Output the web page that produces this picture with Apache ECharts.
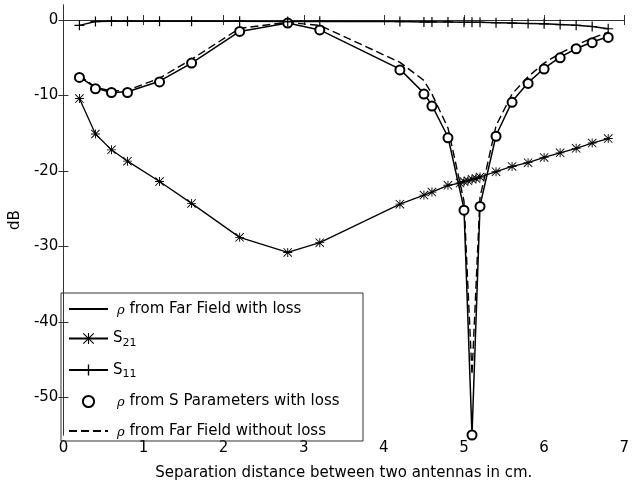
<!DOCTYPE html>
<html>
<head>
<meta charset="utf-8">
<script src="https://cdn.jsdelivr.net/npm/echarts@6/dist/echarts.min.js"></script>
<style>
  html, body { margin: 0; padding: 0; background: #fff; }
  #chart { width: 632px; height: 486px; }
</style>
</head>
<body>
<div id="chart"></div>
<script>
// separation distance (cm)
const rhoX = [0.2, 0.4, 0.6, 0.8, 1.2, 1.6, 2.2, 2.8, 3.2, 4.2, 4.5, 4.6, 4.8, 5.0, 5.1, 5.2, 5.4, 5.6, 5.8, 6.0, 6.2, 6.4, 6.6, 6.8];
const rhoFarLoss = [-7.5, -9.0, -9.6, -9.5, -8.1, -5.7, -1.5, -0.4, -1.3, -6.5, -9.7, -11.3, -15.5, -25.0, -55, -24.6, -15.3, -10.8, -8.3, -6.4, -4.9, -3.8, -2.9, -2.2];
const rhoSParam = [-7.6, -9.1, -9.6, -9.6, -8.2, -5.7, -1.5, -0.4, -1.3, -6.6, -9.8, -11.4, -15.6, -25.2, -55, -24.7, -15.4, -10.9, -8.4, -6.5, -5.0, -3.8, -3.0, -2.3];
const rhoFarNoLoss = [-7.3, -8.9, -9.4, -9.3, -7.7, -5.2, -1.1, -0.3, -0.7, -5.6, -8.0, -9.8, -14.3, -24.0, -47, -23.5, -14.0, -9.8, -7.5, -5.7, -4.4, -3.3, -2.4, -1.6];
const s11 = [-0.7, -0.2, -0.15, -0.15, -0.15, -0.15, -0.15, -0.2, -0.15, -0.2, -0.25, -0.25, -0.25, -0.3, -0.3, -0.3, -0.35, -0.4, -0.45, -0.5, -0.6, -0.7, -0.85, -1.15];

const s21X = [0.2, 0.4, 0.6, 0.8, 1.2, 1.6, 2.2, 2.8, 3.2, 4.2, 4.5, 4.6, 4.8, 4.95, 5.0, 5.05, 5.1, 5.15, 5.2, 5.4, 5.6, 5.8, 6.0, 6.2, 6.4, 6.6, 6.8];
const s21 = [-10.4, -15.1, -17.2, -18.7, -21.4, -24.3, -28.8, -30.8, -29.5, -24.4, -23.2, -22.8, -21.9, -21.6, -21.4, -21.3, -21.1, -21.0, -20.8, -20.1, -19.4, -18.9, -18.2, -17.6, -17.0, -16.3, -15.7];

const xTicks = [0, 1, 2, 3, 4, 5, 6, 7];
const yTicks = [0, -10, -20, -30, -40, -50];

const pairs = (xs, ys) => xs.map((x, i) => [x, ys[i]]);

const FONT = 'DejaVu Sans';
const FS = 15;
const plusPath = 'path://M4.4,0h1.2v10h-1.2z M0,4.4h10v1.2h-10z';
const starPath = 'path://M4.5,0h1v10h-1z M0,4.5h10v1h-10z M0.7,0L10,9.3L9.3,10L0,0.7z M9.3,0L10,0.7L0.7,10L0,9.3z';

const chart = echarts.init(document.getElementById('chart'), null, { renderer: 'canvas' });

const frame = { show: true, lineStyle: { color: '#333', width: 1 } };
const tickIn = { show: true, inside: true, length: 5, lineStyle: { color: '#333' } };

chart.setOption({
  animation: false,
  backgroundColor: '#fff',
  textStyle: { fontFamily: FONT },
  grid: { left: 61, right: 3, top: 5, bottom: 45, containLabel: false },
  xAxis: [{
    type: 'value', min: 0, max: 7,
    name: 'Separation distance between two antennas in cm.',
    nameLocation: 'middle', nameGap: 31,
    nameTextStyle: { fontSize: FS, color: '#000', fontFamily: FONT },
    axisLine: frame, axisTick: Object.assign({ customValues: xTicks }, tickIn),
    axisLabel: { customValues: xTicks, fontSize: FS, color: '#000', margin: 6, fontFamily: FONT },
    splitLine: { show: false }
  }, {
    type: 'value', min: 0, max: 7, position: 'top',
    axisLine: frame, axisTick: Object.assign({ customValues: xTicks }, tickIn),
    axisLabel: { show: false }, splitLine: { show: false }
  }],
  yAxis: [{
    type: 'value', min: -55, max: 2,
    name: 'dB', nameLocation: 'middle', nameGap: 36,
    nameTextStyle: { fontSize: FS, color: '#000', fontFamily: FONT },
    axisLine: frame, axisTick: Object.assign({ customValues: yTicks }, tickIn),
    axisLabel: { customValues: yTicks, fontSize: FS, color: '#000', margin: 5, fontFamily: FONT },
    splitLine: { show: false }
  }, {
    type: 'value', min: -55, max: 2, position: 'right',
    axisLine: frame, axisTick: Object.assign({ customValues: yTicks }, tickIn),
    axisLabel: { show: false }, splitLine: { show: false }
  }],
  legend: {
    orient: 'vertical', left: 68, top: 301, padding: 0,
    itemWidth: 39, itemHeight: 14, itemGap: 13.5,
    data: ['farLoss', 's21', 's11', 'sParam', 'farNoLoss'],
    formatter: function (name) {
      return {
        farLoss: '{rho|ρ} from Far Field with loss',
        s21: 'S{sub|21}',
        s11: 'S{sub|11}',
        sParam: '{rho|ρ} from S Parameters with loss',
        farNoLoss: '{rho|ρ} from Far Field without loss'
      }[name];
    },
    textStyle: {
      fontSize: FS, color: '#000', fontFamily: FONT, lineHeight: 16,
      rich: {
        rho: { fontSize: 13, fontStyle: 'italic', fontFamily: 'DejaVu Serif', color: '#000', padding: [3, 0, 0, 4] },
        sub: { fontSize: 11, color: '#000', fontFamily: FONT, padding: [9, 0, 0, 0] }
      }
    }
  },
  graphic: [{
    type: 'rect', shape: { x: 61, y: 293, width: 302, height: 148 },
    style: { fill: 'none', stroke: '#333', lineWidth: 1 }, z: 10
  }],
  series: [{
    name: 'farNoLoss', type: 'line', data: pairs(rhoX, rhoFarNoLoss),
    symbol: 'circle', showSymbol: false,
    lineStyle: { color: '#000', width: 1.4, type: [8, 4] },
    itemStyle: { color: 'rgba(0,0,0,0)', borderWidth: 0 }, z: 2
  }, {
    name: 'farLoss', type: 'line', data: pairs(rhoX, rhoFarLoss),
    symbol: 'circle', showSymbol: false,
    lineStyle: { color: '#000', width: 1.5 },
    itemStyle: { color: 'rgba(0,0,0,0)', borderWidth: 0 }, z: 3
  }, {
    name: 'sParam', type: 'line', data: pairs(rhoX, rhoSParam),
    symbol: 'emptyCircle', symbolSize: 9, showAllSymbol: true,
    lineStyle: { width: 0, opacity: 0 },
    itemStyle: { color: '#000', borderColor: '#000', borderWidth: 1.2 }, z: 4
  }, {
    name: 's21', type: 'line', data: pairs(s21X, s21),
    symbol: starPath, symbolSize: 9, showAllSymbol: true,
    lineStyle: { color: '#000', width: 1.3 }, itemStyle: { color: '#000', borderWidth: 0 }, z: 5
  }, {
    name: 's11', type: 'line', data: pairs(rhoX, s11),
    symbol: plusPath, symbolSize: 10, showAllSymbol: true,
    lineStyle: { color: '#000', width: 1.5 }, itemStyle: { color: '#000', borderWidth: 0 }, z: 6
  }]
});
</script>
</body>
</html>
